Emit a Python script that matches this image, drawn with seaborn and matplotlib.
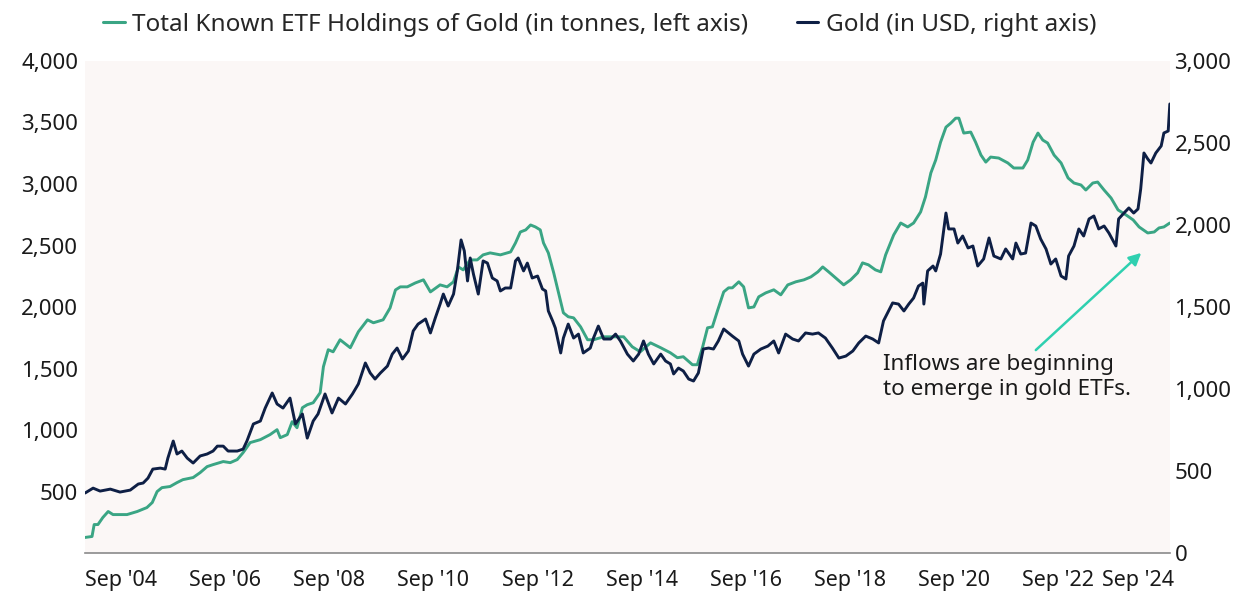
import numpy as np
import pandas as pd
import matplotlib
matplotlib.use("Agg")
import matplotlib.pyplot as plt
import matplotlib.transforms as mtransforms
import seaborn as sns

# ---------------- data ----------------
gold_t = [2004.66, 2004.81, 2004.94, 2005.13, 2005.31, 2005.50, 2005.65, 2005.74, 2005.83, 2005.92,
          2006.06, 2006.15, 2006.20, 2006.30, 2006.37, 2006.46, 2006.56, 2006.67, 2006.80, 2006.93,
          2007.04, 2007.12, 2007.23, 2007.32, 2007.49, 2007.60, 2007.67, 2007.79, 2007.92, 2008.01,
          2008.14, 2008.23, 2008.34, 2008.47, 2008.57, 2008.70, 2008.79, 2008.90, 2008.99, 2009.12,
          2009.25, 2009.37, 2009.50, 2009.63, 2009.74, 2009.87, 2009.96, 2010.05, 2010.15, 2010.28,
          2010.37, 2010.46, 2010.56, 2010.67, 2010.76, 2010.85, 2010.99, 2011.08, 2011.17, 2011.26,
          2011.32, 2011.41, 2011.51, 2011.58, 2011.65, 2011.71, 2011.77, 2011.82, 2011.88, 2011.97,
          2012.06, 2012.14, 2012.23, 2012.32, 2012.38, 2012.47, 2012.57, 2012.66, 2012.71, 2012.81,
          2012.88, 2012.97, 2013.07, 2013.16, 2013.22, 2013.27, 2013.35, 2013.40, 2013.50, 2013.55,
          2013.64, 2013.74, 2013.83, 2013.92, 2014.05, 2014.11, 2014.20, 2014.30, 2014.43, 2014.52,
          2014.61, 2014.74, 2014.85, 2014.95, 2015.04, 2015.13, 2015.23, 2015.36, 2015.45, 2015.54,
          2015.60, 2015.69, 2015.78, 2015.88, 2015.97, 2016.06, 2016.15, 2016.25, 2016.34, 2016.43,
          2016.53, 2016.62, 2016.69, 2016.81, 2016.88, 2016.99, 2017.09, 2017.22, 2017.35, 2017.46,
          2017.55, 2017.68, 2017.81, 2017.92, 2018.05, 2018.18, 2018.29, 2018.42, 2018.55, 2018.67,
          2018.80, 2018.93, 2019.04, 2019.17, 2019.30, 2019.41, 2019.50, 2019.67, 2019.78, 2019.88,
          2019.97, 2020.06, 2020.15, 2020.23, 2020.25, 2020.32, 2020.42, 2020.47, 2020.56, 2020.66,
          2020.71, 2020.81, 2020.88, 2020.97, 2021.07, 2021.16, 2021.25, 2021.36, 2021.46, 2021.55,
          2021.68, 2021.77, 2021.90, 2021.96, 2022.05, 2022.14, 2022.24, 2022.33, 2022.42, 2022.52,
          2022.61, 2022.70, 2022.80, 2022.89, 2022.94, 2023.04, 2023.13, 2023.22, 2023.32, 2023.41,
          2023.50, 2023.60, 2023.69, 2023.82, 2023.87, 2023.97, 2024.06, 2024.15, 2024.23, 2024.28,
          2024.34, 2024.41, 2024.47, 2024.56, 2024.66, 2024.71, 2024.79, 2024.82]
gold_usd = [366, 396, 378, 390, 372, 384, 421, 427, 457, 512,
            518, 512, 579, 683, 604, 622, 579, 549, 592, 604,
            622, 652, 652, 622, 622, 634, 683, 787, 805, 884,
            976, 909, 884, 945, 787, 848, 701, 805, 848, 970,
            854, 945, 909, 970, 1031, 1159, 1098, 1061, 1098, 1140,
            1213, 1250, 1183, 1232, 1354, 1396, 1427, 1342, 1433, 1518,
            1579, 1506, 1579, 1720, 1909, 1842, 1659, 1799, 1701, 1579,
            1781, 1768, 1677, 1659, 1598, 1616, 1616, 1781, 1799, 1720,
            1768, 1677, 1689, 1610, 1598, 1476, 1415, 1372, 1220, 1311,
            1396, 1311, 1335, 1220, 1250, 1311, 1384, 1305, 1305, 1335,
            1293, 1213, 1171, 1213, 1293, 1213, 1153, 1213, 1171, 1153,
            1092, 1128, 1110, 1061, 1049, 1098, 1244, 1250, 1244, 1293,
            1366, 1342, 1323, 1293, 1213, 1140, 1213, 1244, 1262, 1293,
            1220, 1335, 1305, 1293, 1342, 1335, 1342, 1311, 1250, 1189,
            1201, 1232, 1281, 1323, 1305, 1281, 1415, 1525, 1518, 1476,
            1518, 1555, 1628, 1646, 1518, 1720, 1750, 1720, 1823, 2073,
            1976, 1976, 1890, 1933, 1860, 1872, 1750, 1793, 1921, 1811,
            1793, 1854, 1793, 1890, 1823, 1829, 2012, 1994, 1915, 1854,
            1762, 1793, 1689, 1671, 1811, 1872, 1976, 1933, 2037, 2055,
            1976, 1994, 1951, 1872, 2037, 2073, 2104, 2073, 2098, 2220,
            2439, 2403, 2378, 2439, 2482, 2561, 2573, 2738]

etf_t = [2004.66, 2004.79, 2004.83, 2004.90, 2004.99, 2005.09, 2005.18, 2005.44, 2005.63, 2005.81,
         2005.91, 2006.00, 2006.09, 2006.24, 2006.37, 2006.48, 2006.67, 2006.80, 2006.93, 2007.04,
         2007.23, 2007.36, 2007.49, 2007.60, 2007.73, 2007.92, 2008.10, 2008.23, 2008.29, 2008.42,
         2008.51, 2008.60, 2008.70, 2008.79, 2008.90, 2009.03, 2009.09, 2009.18, 2009.27, 2009.40,
         2009.59, 2009.74, 2009.91, 2010.02, 2010.20, 2010.33, 2010.43, 2010.52, 2010.65, 2010.80,
         2010.95, 2011.08, 2011.26, 2011.39, 2011.51, 2011.60, 2011.69, 2011.82, 2011.95, 2012.06,
         2012.19, 2012.38, 2012.57, 2012.66, 2012.75, 2012.85, 2012.94, 2013.03, 2013.12, 2013.18,
         2013.27, 2013.37, 2013.46, 2013.55, 2013.64, 2013.74, 2013.87, 2014.00, 2014.11, 2014.30,
         2014.48, 2014.67, 2014.83, 2014.98, 2015.17, 2015.36, 2015.54, 2015.67, 2015.78, 2015.95,
         2016.04, 2016.14, 2016.23, 2016.32, 2016.42, 2016.53, 2016.62, 2016.69, 2016.81, 2016.90,
         2016.99, 2017.09, 2017.18, 2017.31, 2017.46, 2017.59, 2017.72, 2017.87, 2018.02, 2018.15,
         2018.28, 2018.37, 2018.48, 2018.65, 2018.76, 2018.89, 2019.02, 2019.11, 2019.22, 2019.35,
         2019.45, 2019.54, 2019.69, 2019.82, 2019.95, 2020.06, 2020.19, 2020.28, 2020.38, 2020.47,
         2020.56, 2020.66, 2020.75, 2020.84, 2020.90, 2020.99, 2021.12, 2021.21, 2021.31, 2021.40,
         2021.49, 2021.64, 2021.81, 2021.92, 2022.09, 2022.18, 2022.28, 2022.37, 2022.46, 2022.55,
         2022.67, 2022.80, 2022.93, 2023.04, 2023.17, 2023.26, 2023.39, 2023.48, 2023.60, 2023.73,
         2023.86, 2024.01, 2024.14, 2024.25, 2024.41, 2024.53, 2024.62, 2024.71, 2024.82]
etf_tonnes = [127, 135, 232, 232, 289, 338, 313, 313, 338, 370,
              411, 500, 532, 541, 573, 597, 614, 654, 703, 719,
              744, 735, 760, 817, 898, 922, 963, 1003, 938, 963,
              1068, 1019, 1182, 1206, 1222, 1304, 1515, 1653, 1636, 1734,
              1669, 1799, 1896, 1872, 1896, 1993, 2139, 2164, 2164, 2196,
              2221, 2123, 2180, 2164, 2205, 2326, 2302, 2383, 2383, 2424,
              2440, 2424, 2448, 2521, 2610, 2627, 2667, 2651, 2627, 2521,
              2440, 2278, 2115, 1953, 1921, 1912, 1839, 1734, 1734, 1758,
              1758, 1758, 1677, 1636, 1709, 1669, 1628, 1588, 1596, 1531,
              1531, 1677, 1831, 1839, 1977, 2123, 2156, 2156, 2205, 2164,
              1993, 2001, 2083, 2115, 2140, 2099, 2180, 2205, 2221, 2245,
              2286, 2326, 2286, 2221, 2180, 2221, 2278, 2359, 2343, 2302,
              2286, 2424, 2586, 2683, 2651, 2683, 2773, 2895, 3090, 3195,
              3340, 3462, 3495, 3535, 3535, 3414, 3422, 3340, 3235, 3178,
              3219, 3211, 3171, 3130, 3130, 3195, 3340, 3414, 3357, 3333,
              3235, 3171, 3049, 3008, 2992, 2951, 3008, 3016, 2951, 2886,
              2789, 2748, 2708, 2651, 2602, 2610, 2643, 2651, 2683]

tick_labels = ["Sep '04", "Sep '06", "Sep '08", "Sep '10", "Sep '12", "Sep '14",
               "Sep '16", "Sep '18", "Sep '20", "Sep '22", "Sep '24"]
left_ticks = [500, 1000, 1500, 2000, 2500, 3000, 3500, 4000]
right_ticks = [0, 500, 1000, 1500, 2000, 2500, 3000]

etf_label = "Total Known ETF Holdings of Gold (in tonnes, left axis)"
gold_label = "Gold (in USD, right axis)"
note_text = "Inflows are beginning\nto emerge in gold ETFs."


def to_date(years):
    out = []
    for y in years:
        yr = int(np.floor(y))
        start = pd.Timestamp(year=yr, month=1, day=1)
        end = pd.Timestamp(year=yr + 1, month=1, day=1)
        out.append(start + (end - start) * (y - yr))
    return pd.to_datetime(out)


etf_df = pd.DataFrame({"date": to_date(etf_t), "value": etf_tonnes})
gold_df = pd.DataFrame({"date": to_date(gold_t), "value": gold_usd})

# ---------------- style ----------------
sns.set_theme(style="white")
plt.rcParams["font.family"] = ["Noto Sans", "DejaVu Sans"]

GREEN = "#3aa584"
NAVY = "#0e1f45"
ARROW = "#2fd0b0"
BG = "#fbf7f6"
TXT = "#1a1a1a"

fig = plt.figure(figsize=(12.41, 5.96), dpi=100)
ax = fig.add_axes([0.0685, 0.072, 0.8745, 0.8257])
ax2 = ax.twinx()

sns.lineplot(data=etf_df, x="date", y="value", ax=ax, color=GREEN, lw=2.1,
             label=etf_label, legend=False)
sns.lineplot(data=gold_df, x="date", y="value", ax=ax2, color=NAVY, lw=2.1,
             label=gold_label, legend=False)

ax.set_facecolor(BG)
ax.set_zorder(ax2.get_zorder() - 1)
ax2.patch.set_visible(False)

ax.set_xlim(etf_df["date"].iloc[0], etf_df["date"].iloc[-1] + pd.Timedelta(days=3))
ax.set_ylim(0, 4000)
ax2.set_ylim(0, 3000)

ax.set_xlabel("")
ax.set_ylabel("")
ax2.set_ylabel("")

for a in (ax, ax2):
    for s in ("top", "left", "right", "bottom"):
        a.spines[s].set_visible(False)
ax.spines["bottom"].set_visible(True)
ax.spines["bottom"].set_color("#8a8a8a")
ax.spines["bottom"].set_linewidth(1.2)

ax.set_yticks(left_ticks)
ax.set_yticklabels([f"{v:,}" for v in left_ticks])
ax2.set_yticks(right_ticks)
ax2.set_yticklabels([f"{v:,}" for v in right_ticks])

# x tick labels: one roughly every 2 years of weekly observations, left-aligned
first = etf_df["date"].iloc[0]
tick_dates = [first + pd.Timedelta(days=707 * k) for k in range(len(tick_labels))]
ax.set_xticks(tick_dates)
ax.set_xticklabels(tick_labels)

ax.tick_params(axis="y", length=0, pad=5, labelsize=16, labelcolor=TXT)
ax2.tick_params(axis="y", length=0, pad=3, labelsize=16, labelcolor=TXT)
ax.tick_params(axis="x", length=0, pad=12, labelsize=15.5, labelcolor=TXT)

for i, lab in enumerate(ax.get_xticklabels()):
    if i == len(tick_labels) - 1:
        lab.set_horizontalalignment("right")
        lab.set_transform(lab.get_transform() +
                          mtransforms.ScaledTranslation(47 / 100, 0, fig.dpi_scale_trans))
    else:
        lab.set_horizontalalignment("left")

ax.grid(False)
ax2.grid(False)

# annotation
tip_date = to_date([2024.29])[0]
tail_date = to_date([2022.33])[0]
ax.annotate("", xy=(tip_date, 2440), xytext=(tail_date, 1650),
            arrowprops=dict(arrowstyle="-|>,head_length=0.6,head_width=0.3",
                            color=ARROW, lw=1.8, shrinkA=0, shrinkB=0))
ax.text(to_date([2019.49])[0], 1615, note_text, fontsize=16.2, color=TXT,
        ha="left", va="top", linespacing=1.2)

# legend
h1, = ax.plot([], [], color=GREEN, lw=2.2)
h2, = ax.plot([], [], color=NAVY, lw=2.2)
fig.legend([h1, h2], [etf_label, gold_label], loc="upper center",
           bbox_to_anchor=(0.483, 1.015), ncol=2, frameon=False, fontsize=17.5,
           handlelength=0.9, handletextpad=0.3, columnspacing=2.0)

fig.savefig("out.png", dpi=100, facecolor="white")
